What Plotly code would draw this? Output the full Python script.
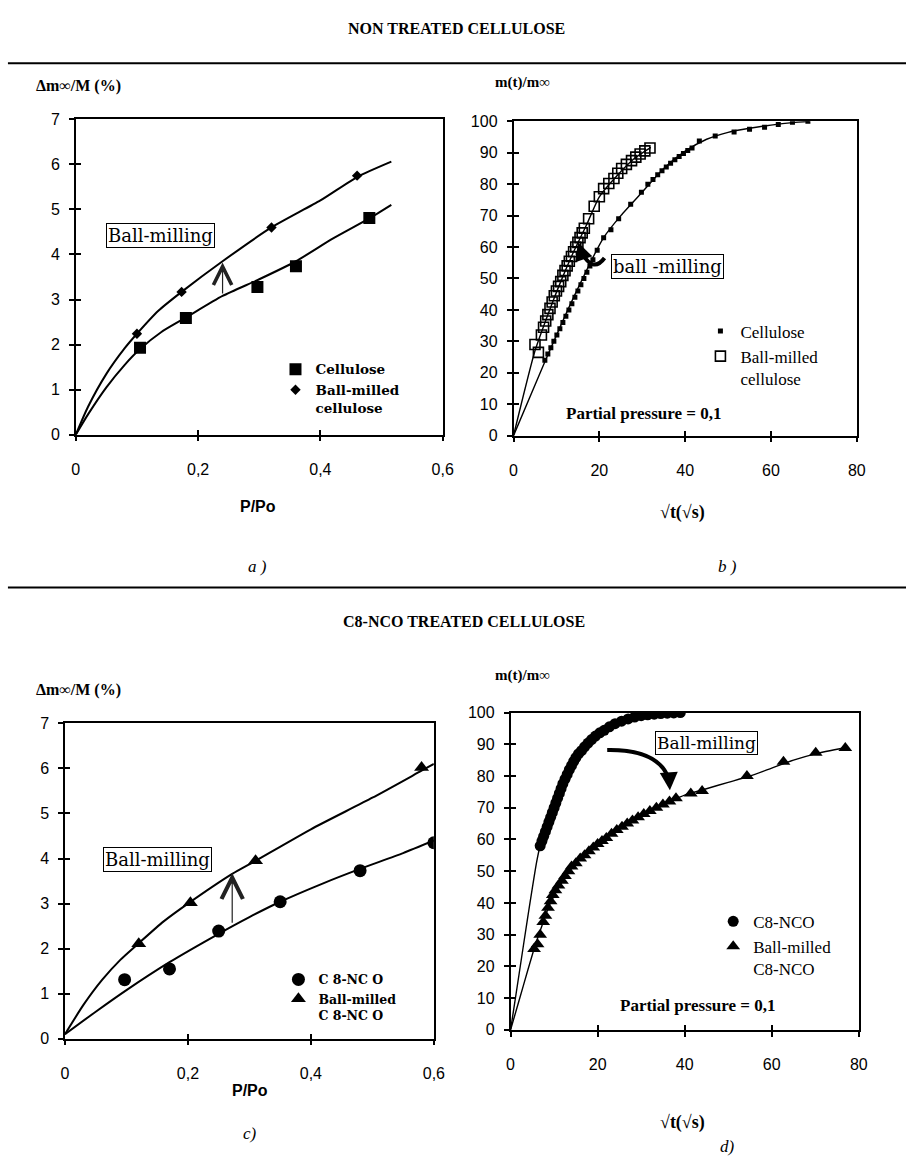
import plotly.graph_objects as go

FIG_W, FIG_H = 917, 1164

# ---------------- (a) non treated cellulose : isotherms ----------------
a_cel_x = [0.105, 0.18, 0.297, 0.36, 0.48]
a_cel_y = [1.93, 2.59, 3.28, 3.74, 4.81]
a_bm_x = [0.10, 0.173, 0.32, 0.46]
a_bm_y = [2.24, 3.17, 4.60, 5.75]
a_cel_fit_x = [0, 0.02, 0.05, 0.08, 0.105, 0.14, 0.18, 0.24, 0.30, 0.36, 0.42, 0.48, 0.516]
a_cel_fit_y = [0, 0.45, 1.05, 1.55, 1.90, 2.28, 2.60, 3.08, 3.45, 3.85, 4.35, 4.80, 5.10]
a_bm_fit_x = [0, 0.02, 0.05, 0.08, 0.10, 0.135, 0.173, 0.24, 0.32, 0.40, 0.46, 0.516]
a_bm_fit_y = [0, 0.62, 1.35, 1.92, 2.24, 2.75, 3.17, 3.85, 4.60, 5.20, 5.72, 6.06]

# ---------------- (b) non treated cellulose : kinetics ----------------
b_cel_x = [7.3, 8.0, 8.7, 9.4, 10.1, 10.8, 11.5, 12.2, 12.9, 13.6, 14.3, 15.0, 15.7,
           16.4, 17.1, 17.8, 18.5, 19.5, 21.0, 22.7, 24.5, 27.3, 29.8, 31.3, 32.5,
           33.6, 34.6, 35.6, 36.6, 37.6, 38.6, 39.6, 40.6, 41.6, 43.3, 47.0, 51.4,
           55.0, 58.5, 61.7, 65.0, 68.6]
b_cel_y = [24, 26, 28, 30, 32, 34, 36, 38, 40, 42, 44, 46, 48, 50, 52, 54, 56, 59,
           63, 65.5, 69, 73.6, 77.4, 80, 81.5, 83, 84.3, 85.5, 86.7, 87.8, 88.8,
           89.8, 90.7, 91.5, 93.7, 95.3, 96.6, 97.5, 98.1, 99, 99.7, 100]
b_bm_x = [5.0, 5.8, 6.5, 7.0, 7.5, 8.0, 8.5, 9.0, 9.5, 10.0, 10.5, 11.0, 11.5, 12.0,
          12.5, 13.0, 13.5, 14.0, 14.5, 15.0, 15.5, 16.0, 16.5, 17.5, 18.8, 20.0,
          21.0, 22.2, 23.4, 24.3, 25.2, 26.3, 27.5, 28.5, 29.5, 30.6, 31.8]
b_bm_y = [29, 26.5, 32, 34.5, 36.5, 38.5, 40.5, 42.5, 44.5, 46, 47.5, 49, 51, 52.5,
          54, 55.5, 57, 58.5, 60, 61.5, 63, 64.5, 66, 69, 73, 76, 78.6, 80.2, 81.8,
          83.5, 85, 86.3, 87.5, 88.6, 89.6, 90.6, 91.5]
b_cel_fit_x = [0, 7.3, 14, 21, 25, 30, 35, 40, 45, 50, 55, 60, 65, 69]
b_cel_fit_y = [0, 23.5, 44, 63, 70, 77.5, 85, 90.5, 94.3, 96.5, 97.8, 98.8, 99.6, 100]
b_bm_fit_x = [0, 5, 8, 11, 14, 17, 20, 24, 28, 32]
b_bm_fit_y = [0, 27, 38.5, 49, 58.5, 67, 76, 82.5, 88, 91.7]

# ---------------- (c) C8-NCO treated : isotherms ----------------
c_c8_x = [0.097, 0.17, 0.25, 0.35, 0.48, 0.60]
c_c8_y = [1.31, 1.55, 2.39, 3.04, 3.73, 4.35]
c_bm_x = [0.12, 0.204, 0.31, 0.58]
c_bm_y = [2.11, 3.02, 3.95, 6.02]
c_c8_fit_x = [0, 0.05, 0.10, 0.17, 0.25, 0.30, 0.35, 0.42, 0.48, 0.55, 0.60]
c_c8_fit_y = [0.1, 0.60, 1.08, 1.70, 2.33, 2.70, 3.04, 3.45, 3.77, 4.12, 4.40]
c_bm_fit_x = [0, 0.03, 0.06, 0.09, 0.12, 0.16, 0.20, 0.272, 0.31, 0.40, 0.50, 0.58, 0.60]
c_bm_fit_y = [0.1, 0.75, 1.30, 1.75, 2.12, 2.60, 3.00, 3.66, 3.95, 4.65, 5.35, 5.95, 6.10]

# ---------------- (d) C8-NCO treated : kinetics ----------------
d_c8_x = [6.8, 7.2, 7.6, 8.0, 8.4, 8.8, 9.2, 9.6, 10.0, 10.4, 10.8, 11.2, 11.6, 12.0,
          12.5, 13.0, 13.5, 14.0, 14.5, 15.0, 15.6, 16.3, 17.0, 17.8, 18.6, 19.5,
          20.5, 21.5, 22.7, 24.0, 25.5, 27.0, 28.5, 30.0, 31.5, 33.0, 34.5, 36.0,
          37.5, 39.0]
d_c8_y = [58, 59.5, 61, 62.5, 64, 65.5, 67, 68.5, 70, 71.5, 73, 74.5, 76, 77.5, 79,
          80.5, 82, 83.3, 84.6, 85.8, 87, 88, 89.2, 90.4, 91.5, 92.6, 93.6, 94.4,
          95.5, 96.5, 97.3, 98, 98.6, 99, 99.3, 99.5, 99.7, 99.8, 99.9, 100]
d_bm_x = [5.4, 6.2, 6.8, 7.5, 8.0, 8.6, 9.2, 9.7, 10.3, 11.0, 11.8, 12.5, 13.3, 14.0,
          15.0, 16.0, 17.0, 18.0, 19.0, 20.0, 21.0, 22.0, 23.2, 24.4, 25.6, 26.8,
          28.0, 29.3, 30.6, 32.0, 33.5, 35.0, 36.5, 38.0, 41.4, 44.0, 54.3, 62.7,
          70.1, 76.9]
d_bm_y = [25.5, 27, 30, 34, 36, 38.5, 40.5, 42.5, 44, 45.5, 47, 48.5, 50, 51.5, 52.5,
          54, 55, 56.3, 57.5, 58.6, 59.5, 60.5, 61.8, 63, 64, 65, 66, 67, 68, 69, 70,
          71, 72, 73, 74.5, 75.3, 80, 84.5, 87.3, 88.8]
d_c8_fit_x = [0, 2, 4, 6, 6.8, 8, 10, 12, 14, 16, 18, 20, 22, 25, 28, 31, 34, 37, 39]
d_c8_fit_y = [0, 18, 36, 53, 58, 62.5, 70, 77.5, 83.3, 87.5, 91, 93.2, 95, 97, 98.5,
              99.3, 99.7, 99.9, 100]
d_bm_fit_x = [0, 2, 4, 5.4, 7, 9, 12, 15, 18, 21, 25, 30, 35, 40, 45, 50, 55, 60, 65,
              70, 77]
d_bm_fit_y = [0, 9.5, 19, 25.5, 32, 39.5, 47, 52.5, 56.3, 59.5, 63.5, 68, 71, 74, 76,
              78, 80, 82.5, 85, 87, 89]

# ---------------- ticks ----------------
iso_xticks = [0, 0.2, 0.4, 0.6]
iso_xtext = ["0", "0,2", "0,4", "0,6"]
iso_yticks = [0, 1, 2, 3, 4, 5, 6, 7]
kin_xticks = [0, 20, 40, 60, 80]
kin_yticks = [0, 10, 20, 30, 40, 50, 60, 70, 80, 90, 100]

# ---------------- layout helpers ----------------
SERIF = "Liberation Serif, Times New Roman, serif"
SANS = "Liberation Sans, Arial, sans-serif"
BOXF = "DejaVu Serif, serif"


def PX(x):
    return x / FIG_W


def PY(y):
    return 1 - y / FIG_H


# panel boxes in pixels: (x0, x1, ytop, ybottom)
PANELS = {
    "a": (73, 446, 113, 433),
    "b": (518, 867, 115, 434),
    "c": (62, 437, 726, 1046),
    "d": (515, 869, 715, 1037),
}

fig = go.Figure()


def line_tr(x, y, xa, ya, w=1.8):
    fig.add_trace(go.Scatter(x=x, y=y, xaxis=xa, yaxis=ya, mode="lines",
                             line=dict(color="black", width=w, shape="spline", smoothing=0.6),
                             showlegend=False, hoverinfo="skip"))


def mark_tr(x, y, xa, ya, name, sym, size, legend, lw=0):
    fig.add_trace(go.Scatter(x=x, y=y, xaxis=xa, yaxis=ya, mode="markers", name=name,
                             marker=dict(symbol=sym, size=size, color="black",
                                         line=dict(color="black", width=lw)),
                             legend=legend, showlegend=True, hoverinfo="skip"))


# (a)
line_tr(a_cel_fit_x, a_cel_fit_y, "x", "y", 2)
line_tr(a_bm_fit_x, a_bm_fit_y, "x", "y", 2)
mark_tr(a_cel_x, a_cel_y, "x", "y", "<b>Cellulose</b>", "square", 12, "legend")
mark_tr(a_bm_x, a_bm_y, "x", "y", "<b>Ball-milled<br>cellulose</b>", "diamond", 8, "legend")
# (b)
line_tr(b_cel_fit_x, b_cel_fit_y, "x2", "y2", 1.4)
line_tr(b_bm_fit_x, b_bm_fit_y, "x2", "y2", 1.4)
mark_tr(b_cel_x, b_cel_y, "x2", "y2", "Cellulose", "square", 5, "legend2")
mark_tr(b_bm_x, b_bm_y, "x2", "y2", "Ball-milled<br>cellulose", "square-open", 10, "legend2", lw=1.6)
# (c)
line_tr(c_c8_fit_x, c_c8_fit_y, "x3", "y3", 2)
line_tr(c_bm_fit_x, c_bm_fit_y, "x3", "y3", 2)
mark_tr(c_c8_x, c_c8_y, "x3", "y3", "<b>C 8-NC O</b>", "circle", 13, "legend3")
mark_tr(c_bm_x, c_bm_y, "x3", "y3", "<b>Ball-milled<br>C 8-NC O</b>", "triangle-up", 13, "legend3")
# (d)
line_tr(d_c8_fit_x, d_c8_fit_y, "x4", "y4", 1.4)
line_tr(d_bm_fit_x, d_bm_fit_y, "x4", "y4", 1.4)
mark_tr(d_c8_x, d_c8_y, "x4", "y4", "C8-NCO", "circle", 11, "legend4")
mark_tr(d_bm_x, d_bm_y, "x4", "y4", "Ball-milled<br>C8-NCO", "triangle-up", 12, "legend4")

# invisible traces so the inner-tick overlay axes are drawn
for k in range(5, 9):
    fig.add_trace(go.Scatter(x=[None], y=[None], xaxis=f"x{k}", yaxis=f"y{k}",
                             showlegend=False, hoverinfo="skip"))

main_ax = dict(showline=True, linecolor="black", linewidth=1.5, mirror=True,
               ticks="outside", ticklen=5, tickwidth=1.5, tickcolor="black",
               showgrid=False, zeroline=False,
               tickfont=dict(family=SANS, size=16, color="black"))
inner_ax = dict(showline=False, ticks="inside", ticklen=5, tickwidth=1.5,
                tickcolor="black", showgrid=False, zeroline=False,
                showticklabels=False)

lay = {}
spec = [("a", "", [0, 0.6], [0, 7], iso_xticks, iso_xtext, iso_yticks, [str(v) for v in iso_yticks]),
        ("b", "2", [0, 80], [0, 100], kin_xticks, [str(v) for v in kin_xticks], kin_yticks, [str(v) for v in kin_yticks]),
        ("c", "3", [0, 0.6], [0, 7], iso_xticks, iso_xtext, iso_yticks, [str(v) for v in iso_yticks]),
        ("d", "4", [0, 80], [0, 100], kin_xticks, [str(v) for v in kin_xticks], kin_yticks, [str(v) for v in kin_yticks])]
for i, (p, s, xr, yr, xt, xtt, yt, ytt) in enumerate(spec):
    x0, x1, yt0, yb0 = PANELS[p]
    xd = [PX(x0), PX(x1)]
    yd = [PY(yb0), PY(yt0)]
    lay["xaxis" + s] = dict(main_ax, domain=xd, range=xr, tickvals=xt, ticktext=xtt,
                            anchor="y" + s, ticklabelstandoff=14)
    lay["yaxis" + s] = dict(main_ax, domain=yd, range=yr, tickvals=yt, ticktext=ytt,
                            anchor="x" + s, ticklabelstandoff=6)
    k = str(5 + i)
    lay["xaxis" + k] = dict(inner_ax, domain=xd, range=xr, tickvals=xt,
                            overlaying="x" + s, anchor="y" + k)
    lay["yaxis" + k] = dict(inner_ax, domain=yd, range=yr, tickvals=yt,
                            overlaying="y" + s, anchor="x" + k)

fig.update_layout(**lay)

# ---------------- texts ----------------
anns = []


def ptxt(text, x, y, size=15, family=SERIF, xanchor="center", color="black"):
    anns.append(dict(text=text, x=PX(x), y=PY(y), xref="paper", yref="paper",
                     showarrow=False, xanchor=xanchor, yanchor="middle",
                     font=dict(family=family, size=size, color=color)))


ptxt("<b>NON TREATED CELLULOSE</b>", 460, 21, 16)
ptxt("<b>C8-NCO TREATED CELLULOSE</b>", 468, 623, 16)
ptxt("<b>Δm∞/M (%)</b>", 30, 79, 16, xanchor="left")
ptxt("<b>m(t)/m∞</b>", 497, 76, 15, xanchor="left")
ptxt("<b>Δm∞/M (%)</b>", 30, 692, 16, xanchor="left")
ptxt("<b>m(t)/m∞</b>", 497, 677, 15, xanchor="left")
ptxt("<b>P/Po</b>", 258, 506, 16, SANS)
ptxt("<b>P/Po</b>", 250, 1099, 16, SANS)
ptxt("<b>√t(√s)</b>", 690, 512, 18)
ptxt("<b>√t(√s)</b>", 690, 1131, 18)
ptxt("<i>a )</i>", 258, 567, 17)
ptxt("<i>b )</i>", 736, 567, 17)
ptxt("<i>c)</i>", 250, 1142, 17)
ptxt("<i>d)</i>", 736, 1155, 17)


def dtxt(text, x, y, xa, ya, size=15, family=SERIF, box=False):
    d = dict(text=text, x=x, y=y, xref=xa, yref=ya, showarrow=False,
             font=dict(family=family, size=size, color="black"))
    if box:
        d.update(bordercolor="black", borderwidth=1, borderpad=1, bgcolor="white")
    anns.append(d)


# boxed "Ball-milling" labels (data positions)
BOX_A = (0.139, 4.42)
BOX_B = (35.8, 53.9)
BOX_C = (0.15, 3.98)
BOX_D = (45.0, 90.4)
dtxt("Ball-milling", *BOX_A, "x", "y", 18, BOXF, True)
dtxt("ball -milling", *BOX_B, "x2", "y2", 18, BOXF, True)
dtxt("Ball-milling", *BOX_C, "x3", "y3", 18, BOXF, True)
dtxt("Ball-milling", *BOX_D, "x4", "y4", 17, BOXF, True)

PP_B = (30.3, 6.9)
PP_D = (43.0, 7.8)
dtxt("<b>Partial pressure = 0,1</b>", *PP_B, "x2", "y2", 17)
dtxt("<b>Partial pressure = 0,1</b>", *PP_D, "x4", "y4", 17)

# straight vertical arrows (a) and (c)
ARR_A = (0.24, 3.10, 3.82)
ARR_C = (0.272, 2.54, 3.68)
for (ax_, y0, y1), xa, ya, sz in [(ARR_A, "x", "y", 3.0), (ARR_C, "x3", "y3", 3.5)]:
    anns.append(dict(x=ax_, y=y1, ax=ax_, ay=y0, xref=xa, yref=ya, axref=xa, ayref=ya,
                     text="", showarrow=True, arrowhead=5, arrowsize=sz,
                     arrowwidth=1.2, arrowcolor="#222"))

# curved arrows (b) and (d)
CURVE_B = "M 21.2,56.5 Q 18.5,51.5 15.8,58.5"
CURVE_D = "M 22.2,88.2 Q 34,88.5 36.4,79"
shapes = [
    dict(type="path", path=CURVE_B, xref="x2", yref="y2", line=dict(color="black", width=4)),
    dict(type="path", path=CURVE_D, xref="x4", yref="y4", line=dict(color="black", width=4)),
    dict(type="line", xref="paper", yref="paper", x0=PX(4), x1=1, y0=PY(56), y1=PY(56),
         line=dict(color="black", width=2)),
    dict(type="line", xref="paper", yref="paper", x0=PX(4), x1=1, y0=PY(588), y1=PY(588),
         line=dict(color="black", width=2)),
]
HEAD_B = (15.0, 61.5, 15.9, 58.0)
HEAD_D = (36.6, 75.5, 36.4, 80.0)
for (hx, hy, tx, ty), xa, ya in [(HEAD_B, "x2", "y2"), (HEAD_D, "x4", "y4")]:
    anns.append(dict(x=hx, y=hy, ax=tx, ay=ty, xref=xa, yref=ya, axref=xa, ayref=ya,
                     text="", showarrow=True, arrowhead=2, arrowsize=1.2,
                     arrowwidth=3, arrowcolor="black"))


# ---------------- legends ----------------
def leg(mx, my, size, family=SERIF):
    return dict(x=PX(mx - 20), y=PY(my - 11), xref="paper", yref="paper",
                xanchor="left", yanchor="top", bgcolor="rgba(0,0,0,0)",
                borderwidth=0, itemwidth=30, tracegroupgap=0, valign="top",
                font=dict(family=family, size=size, color="black"),
                itemclick=False, itemdoubleclick=False)


fig.update_layout(
    width=FIG_W, height=FIG_H,
    margin=dict(l=0, r=0, t=0, b=0),
    paper_bgcolor="white", plot_bgcolor="white",
    separators=", ",
    annotations=anns, shapes=shapes,
    legend=leg(296, 362, 13.5, BOXF),
    legend2=leg(728, 321, 17),
    legend3=leg(299, 982, 12.5, BOXF),
    legend4=leg(741, 920, 17),
)

fig.write_html("out.html")
